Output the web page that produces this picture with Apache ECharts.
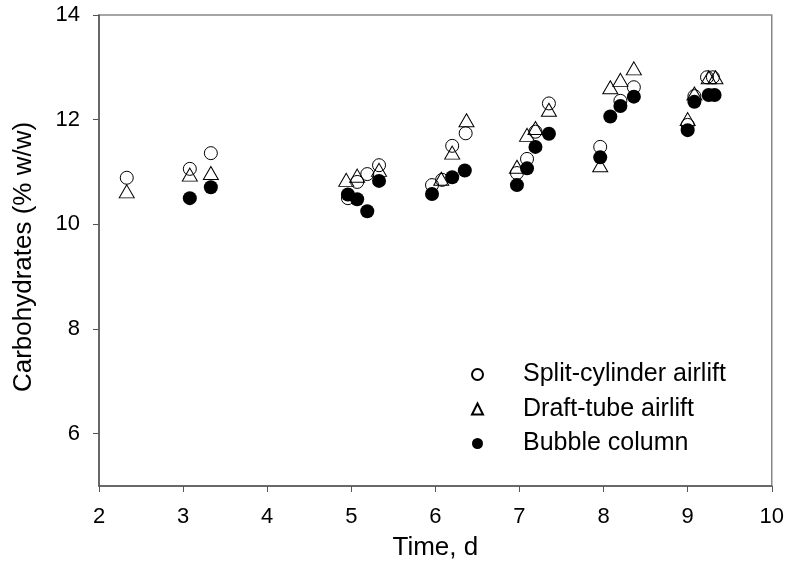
<!DOCTYPE html>
<html>
<head>
<meta charset="utf-8">
<script src="https://cdn.jsdelivr.net/npm/echarts@6/dist/echarts.min.js"></script>
<style>html,body{margin:0;padding:0;background:#fff}#c{width:787px;height:566px}</style>
</head>
<body>
<div id="c"></div>
<script>
const seriesNames = ['Split-cylinder airlift', 'Draft-tube airlift', 'Bubble column'];
const splitCylinder = [[2.33,10.89],[3.08,11.06],[3.33,11.36],[4.96,10.50],[5.07,10.81],[5.19,10.96],[5.33,11.13],[5.96,10.75],[6.08,10.85],[6.20,11.50],[6.36,11.74],[6.97,10.98],[7.09,11.25],[7.19,11.77],[7.35,12.31],[7.96,11.48],[8.20,12.36],[8.36,12.62],[9.00,11.90],[9.08,12.45],[9.23,12.81],[9.30,12.81]];
const draftTube = [[2.33,10.63],[3.08,10.95],[3.33,10.98],[4.94,10.85],[5.07,10.93],[5.33,11.04],[6.07,10.87],[6.20,11.37],[6.37,11.99],[6.97,11.10],[7.09,11.71],[7.19,11.84],[7.35,12.19],[7.96,11.13],[8.08,12.62],[8.20,12.76],[8.36,12.98],[9.00,12.01],[9.08,12.50],[9.25,12.81],[9.33,12.81]];
const bubbleColumn = [[3.08,10.50],[3.33,10.71],[4.96,10.57],[5.07,10.48],[5.19,10.25],[5.33,10.83],[5.96,10.58],[6.20,10.90],[6.35,11.03],[6.97,10.75],[7.09,11.07],[7.19,11.48],[7.35,11.73],[7.96,11.28],[8.08,12.06],[8.20,12.26],[8.36,12.44],[9.00,11.80],[9.08,12.34],[9.25,12.47],[9.32,12.47]];
const xTicks = [2,3,4,5,6,7,8,9,10];
const yTicks = [6,8,10,12,14];

const font = 'Liberation Sans, Arial, Helvetica, sans-serif';
const chart = echarts.init(document.getElementById('c'));
chart.setOption({
  animation: false,
  backgroundColor: '#fff',
  grid: { left: 99, right: 15, top: 15, bottom: 80, show: true, borderColor: '#888', borderWidth: 1.5 },
  legend: {
    orient: 'vertical', left: 466, top: 357, itemGap: 9.5, itemWidth: 11, itemHeight: 11,
    textStyle: { fontFamily: font, fontSize: 25, lineHeight: 25, color: '#000', padding: [0,0,0,35] },
    data: seriesNames
  },
  xAxis: {
    type: 'value', min: 2, max: 10, interval: 1,
    name: 'Time, d', nameLocation: 'middle', nameGap: 49,
    nameTextStyle: { fontFamily: font, fontSize: 26, color: '#000' },
    axisLine: { show: true, lineStyle: { color: '#555', width: 1.5 } },
    axisTick: { show: true, inside: false, length: 6, lineStyle: { color: '#555' } },
    axisLabel: { fontFamily: font, fontSize: 22, color: '#000', margin: 20, customValues: xTicks },
    splitLine: { show: false }
  },
  yAxis: {
    type: 'value', min: 5, max: 14,
    name: 'Carbohydrates (% w/w)', nameLocation: 'middle', nameGap: 62,
    nameTextStyle: { fontFamily: font, fontSize: 26, color: '#000', padding: [0,13,0,0] },
    axisLine: { show: true, lineStyle: { color: '#555', width: 1.5 } },
    axisTick: { show: true, inside: false, length: 6, lineStyle: { color: '#555' }, customValues: yTicks },
    axisLabel: { fontFamily: font, fontSize: 22, color: '#000', margin: 19, customValues: yTicks },
    splitLine: { show: false }
  },
  series: [
    { name: seriesNames[0], type: 'scatter', data: splitCylinder, symbol: 'circle', symbolSize: 13,
      itemStyle: { color: 'rgba(255,255,255,0)', borderColor: '#000', borderWidth: 1, opacity: 1 } },
    { name: seriesNames[1], type: 'scatter', data: draftTube, symbol: 'triangle', symbolSize: [15,13],
      itemStyle: { color: 'rgba(255,255,255,0)', borderColor: '#000', borderWidth: 1, opacity: 1 } },
    { name: seriesNames[2], type: 'scatter', data: bubbleColumn, symbol: 'circle', symbolSize: 14,
      itemStyle: { color: '#000', borderColor: '#000', borderWidth: 0, opacity: 1 } }
  ]
});
</script>
</body>
</html>
